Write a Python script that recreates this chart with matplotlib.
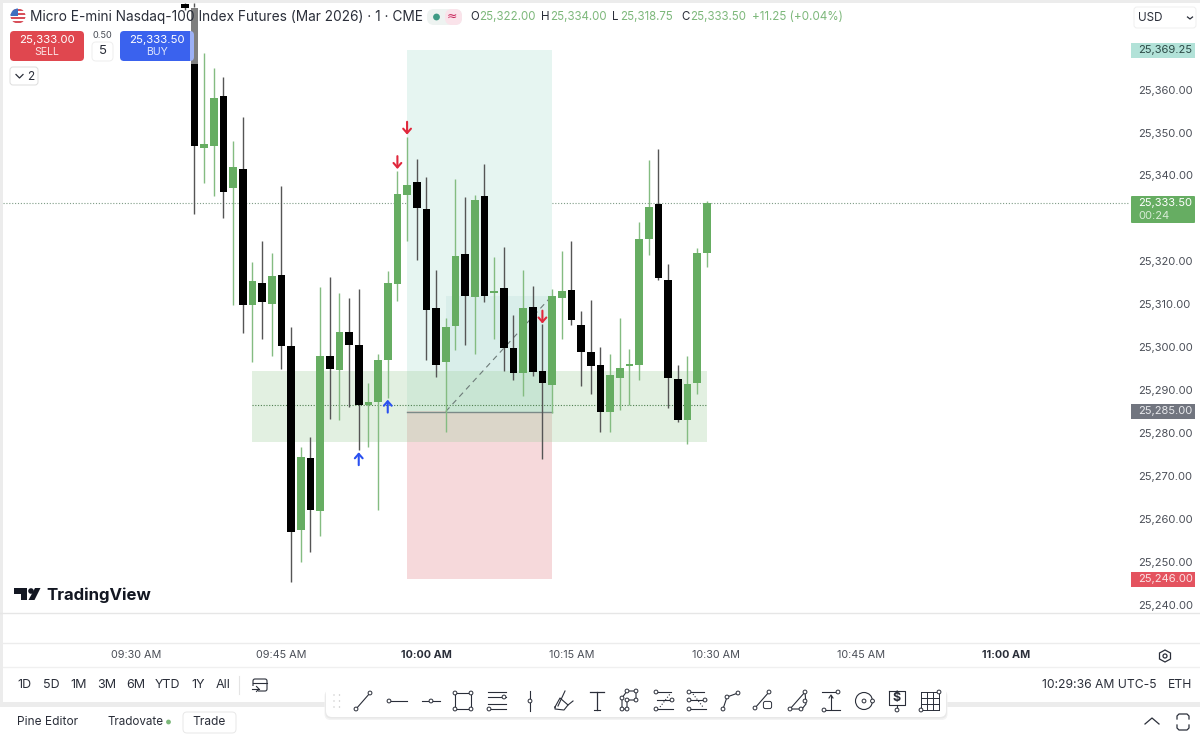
from __future__ import annotations

import matplotlib

matplotlib.use("Agg")

import matplotlib.pyplot as plt
from matplotlib.patches import Circle, FancyBboxPatch, Polygon, Rectangle

plt.rcParams["font.family"] = ["Inter", "DejaVu Sans"]

W, H = 1200, 734

# minutes after 09:30; OHLC lists hold the quote minus OFFSET
MINUTES = list(range(5, 60))
OFFSET = 25000
OPENS = [380, 379, 346.5, 346.75, 358.5, 337, 341.5, 309.75, 315, 310, 316.75, 300.25, 257.5, 274.25, 261.75,
         298, 294.75, 303.5, 300.5, 286.5, 287.25, 297, 314.75, 335.5, 338.5, 332.25, 309, 296.5, 305, 321.75,
         311.75, 335.25, 312.5, 313.75, 299.75, 294, 309.25, 294.5, 291.25, 311.5, 313.25, 305.25, 298.75, 295.75,
         285, 292.75, 295.5, 295.75, 325.25, 333.25, 315.75, 292.5, 283, 291.75, 322]
HIGHS = [380.25, 380.25, 368.5, 365, 363, 348, 353.5, 319.75, 324.75, 322, 337.5, 304.75, 276.75, 279, 314,
         316.25, 312.5, 311.5, 313.5, 291.75, 298.5, 317.75, 341, 349, 343.75, 339.75, 318, 306.75, 339.25, 335,
         335.5, 342.75, 321, 323.25, 307.5, 318, 314.25, 305.5, 313.5, 322.5, 324.75, 308.5, 311, 300,
         298.5, 306.75, 299.5, 329.25, 343.5, 346.25, 319.25, 295.75, 298, 323, 334]
LOWS = [378.5, 331, 338.25, 335.25, 330, 309.75, 303.25, 296.5, 302, 298, 295, 245.25, 250, 252.25, 256,
        283.25, 283, 286, 276, 276.75, 262, 288.25, 310.75, 324.75, 320.25, 297, 293, 280.25, 299.25, 300.5,
        298.5, 310.5, 302, 294.5, 292.25, 288.5, 293.25, 274, 284.75, 302, 305.25, 291, 289, 280.25,
        280.25, 285.25, 286.5, 292.25, 321.5, 315.75, 285.75, 282.5, 277.5, 289, 318.75]
CLOSES = [379, 346.75, 347.25, 358, 336.25, 342, 309.75, 315.5, 310.5, 316.5, 300.25, 257, 274.5, 262, 298,
          295, 303.5, 300.5, 286.5, 287.25, 297, 315, 335.75, 337.75, 332.5, 308.75, 295.75, 304.75, 321.25, 312,
          334.25, 312, 313, 299.75, 294, 309, 294.25, 291.75, 312, 313, 306.25, 298.75, 295.5, 285,
          293.5, 295.25, 296, 325.25, 332.75, 316, 292.75, 283, 291.5, 322, 333.5]

TARGET_PRICE = 25369.25
ENTRY_PRICE = 25285
STOP_PRICE = 25246
LAST_PRICE = 25333.5
POSITION_START, POSITION_END = 28, 43
FILL_START = 32
FILL_TOP = 25312
ZONE_START, ZONE_END = 12, 59
ZONE_TOP, ZONE_BOTTOM = 25294.5, 25278
ZONE_MID = 25286.5

SELL_ARROWS = [(27, 25341.5, 25344.5), (28, 25349.5, 25352.5), (42, 25305.5, 25308.5)]
BUY_ARROWS = [(23, 25275.5, 25272.5), (26, 25287.75, 25284.75)]

# 25,330 and 25,370 sit behind the price tags on the scale
PRICE_TICKS = [25240, 25250, 25260, 25270, 25280, 25290, 25300, 25310, 25320, 25340, 25350, 25360]
TIME_TICKS = [0, 15, 30, 45, 60, 75, 90]
TIME_LABELS = ["09:30 AM", "09:45 AM", "10:00 AM", "10:15 AM", "10:30 AM", "10:45 AM", "11:00 AM"]
RANGE_LABELS = ["1D", "5D", "1M", "3M", "6M", "YTD", "1Y", "All"]
RANGE_X = [24, 51, 79, 107, 136, 167, 198, 223]

GREEN = "#66ad62"
GREEN_WICK = "#84bc81"
INK = "#2a2e39"
GREY_TXT = "#4a4e57"


def px_axes(fig, zorder):
    ax = fig.add_axes([0, 0, 1, 1], zorder=zorder)
    ax.set_xlim(0, W)
    ax.set_ylim(H, 0)
    ax.axis("off")
    ax.patch.set_alpha(0)
    return ax


def box(ax, x0, y0, x1, y1, face="white", edge="none", r=3, lw=0.7, zorder=3, alpha=None):
    ax.add_patch(FancyBboxPatch((x0 + r, y0 + r), x1 - x0 - 2 * r, y1 - y0 - 2 * r,
                                boxstyle=f"round,pad={r},rounding_size={r}", fc=face, ec=edge, lw=lw,
                                zorder=zorder, alpha=alpha))


def draw_chart(ax):
    ax.set_xlim((3 - 136.4) / 9.667, (1130 - 136.4) / 9.667)
    ax.set_ylim(25360 - (613 - 89.6) / 4.292, 25360 - (3 - 89.6) / 4.292)
    ax.patch.set_alpha(0)
    for side in ["left", "top", "right", "bottom"]:
        ax.spines[side].set_visible(False)

    ax.axhline(LAST_PRICE, color="#7f9c86", lw=0.8, ls=(0, (1, 1.6)), zorder=1)

    # position tool
    width = POSITION_END - POSITION_START
    ax.add_patch(Rectangle((POSITION_START, ENTRY_PRICE), width, TARGET_PRICE - ENTRY_PRICE, fc="#e6f5f1", ec="none", zorder=1))
    ax.add_patch(Rectangle((POSITION_START, STOP_PRICE), width, ENTRY_PRICE - STOP_PRICE, fc="#f6d9db", ec="none", zorder=1))
    ax.add_patch(Rectangle((FILL_START, ENTRY_PRICE), POSITION_END - FILL_START, FILL_TOP - ENTRY_PRICE, fc="#d9eeea", ec="none", zorder=1.1))
    ax.add_patch(Rectangle((ZONE_START, ZONE_BOTTOM), ZONE_END - ZONE_START, ZONE_TOP - ZONE_BOTTOM, fc="#a5d2a3", alpha=0.32, ec="none", zorder=1.2))
    ax.plot([ZONE_START, ZONE_END], [ZONE_MID, ZONE_MID], color="#4f7f50", lw=0.8, ls=(0, (1, 1.5)), zorder=1.3)
    ax.plot([POSITION_START, POSITION_END], [ENTRY_PRICE, ENTRY_PRICE], color="#7b8a88", lw=1.0, zorder=1.3)
    ax.plot([FILL_START, POSITION_END], [ENTRY_PRICE, FILL_TOP], color="#6d7a78", lw=0.8, ls=(0, (5, 4)), zorder=1.3)

    # candles
    for m, o, h, l, c in zip(MINUTES, OPENS, HIGHS, LOWS, CLOSES):
        up = c >= o
        ax.vlines(m, OFFSET + l, OFFSET + h, color=GREEN_WICK if up else "#555555", lw=1.0, zorder=2)
        ax.bar(m, max(abs(c - o), 0.5), bottom=OFFSET + min(o, c), width=0.78, color=GREEN if up else "black", zorder=3)

    style = "->,head_width=0.28,head_length=0.32"
    for m, tip, tail in SELL_ARROWS:
        ax.annotate("", xy=(m, tip), xytext=(m, tail), zorder=4,
                    arrowprops=dict(arrowstyle=style, color="#e0283c", lw=1.5, shrinkA=0, shrinkB=0))
    for m, tip, tail in BUY_ARROWS:
        ax.annotate("", xy=(m, tip), xytext=(m, tail), zorder=4,
                    arrowprops=dict(arrowstyle=style, color="#2a50f0", lw=1.5, shrinkA=0, shrinkB=0))

    ax.yaxis.tick_right()
    ax.set_yticks(PRICE_TICKS)
    ax.set_yticklabels([f"{p:,.2f}" for p in PRICE_TICKS], fontsize=8.0, color=GREY_TXT)
    ax.set_xticks(TIME_TICKS)
    ax.set_xticklabels(TIME_LABELS, fontsize=7.8, color=GREY_TXT)
    ax.tick_params(axis="y", length=0, pad=5.5)
    ax.tick_params(axis="x", length=0, pad=27)
    for label in ax.get_xticklabels():
        if label.get_text() in ("10:00 AM", "11:00 AM"):
            label.set_fontweight("bold")
            label.set_color(INK)


def draw_flag(ax):
    clip = Circle((18, 16), 7.5, transform=ax.transData)
    ax.add_patch(Rectangle((10, 8), 16, 16, fc="white", ec="none", zorder=3, clip_path=clip))
    for y in (9, 13, 17, 21):
        ax.add_patch(Rectangle((10, y), 16, 2, fc="#d8505a", ec="none", zorder=3.1, clip_path=clip))
    ax.add_patch(Rectangle((10, 8), 8, 8, fc="#3f6fc0", ec="none", zorder=3.2, clip_path=clip))


def draw_header(ax):
    draw_flag(ax)
    ax.text(30, 17, "Micro E-mini Nasdaq-100 Index Futures (Mar 2026) · 1 · CME", fontsize=9.85, color=INK, va="center", zorder=5)

    box(ax, 427, 9, 462, 25, face="#eef3f1", r=7)
    box(ax, 445, 9, 462, 25, face="#fae3ea", r=7, zorder=3.1)
    ax.add_patch(Circle((436.5, 17), 3.4, fc="#3f9b85", ec="none", zorder=4))
    ax.text(452, 16.5, "≈", fontsize=9, color="#c8285c", ha="center", va="center", family="DejaVu Sans", zorder=4)

    green = "#7db87b"
    for x, letter, vx, value in [(470, "O", 479, "25,322.00"), (541, "H", 550, "25,334.00"),
                                 (612, "L", 620, "25,318.75"), (681, "C", 690, "25,333.50")]:
        ax.text(x, 17, letter, fontsize=8.3, color=INK, va="center", zorder=5)
        ax.text(vx, 17, value, fontsize=8.3, color=green, va="center", zorder=5)
    ax.text(752, 17, "+11.25 (+0.04%)", fontsize=8.4, color=green, va="center", zorder=5)

    box(ax, 10, 31, 84, 61, face="#e0474f", r=4)
    ax.text(47, 40, "25,333.00", fontsize=8.2, color="white", ha="center", va="center", zorder=5)
    ax.text(47, 52, "SELL", fontsize=7.6, color="#fbe3e4", ha="center", va="center", zorder=5)
    box(ax, 120, 31, 194, 61, face="#3a62ee", r=4)
    ax.text(157, 40, "25,333.50", fontsize=8.2, color="white", ha="center", va="center", zorder=5)
    ax.text(157, 52, "BUY", fontsize=7.6, color="#dfe6fd", ha="center", va="center", zorder=5)
    ax.text(102.5, 35, "0.50", fontsize=6.6, color=GREY_TXT, ha="center", va="center", zorder=5)
    box(ax, 92, 42, 113, 61, face="white", edge="#eeeeee", r=4)
    ax.text(102.5, 51.5, "5", fontsize=9.5, color=INK, ha="center", va="center", zorder=5)
    box(ax, 10, 67, 38, 85, face="white", edge="#dddddd", r=3)
    ax.plot([16, 19.5, 23], [74.5, 78, 74.5], color=INK, lw=0.9, zorder=5)
    ax.text(31, 76.5, "2", fontsize=8.5, color=INK, ha="center", va="center", zorder=5)

    box(ax, 1134, 7, 1196, 28, face="white", edge="#efefef", r=3)
    ax.text(1138, 18, "USD", fontsize=8.4, color=INK, va="center", zorder=5)
    ax.plot([1187.5, 1190, 1192.5], [17, 19, 17], color=INK, lw=0.9, zorder=5)

    # price tags on the scale
    ax.add_patch(Rectangle((1131, 42.5), 64, 15, fc="#b2e2d8", ec="none", zorder=4))
    ax.text(1138, 50, f"{TARGET_PRICE:,.2f}", fontsize=8.0, color="#2c4a46", va="center", zorder=5)
    box(ax, 1131, 196, 1195, 223, face=GREEN, r=1, zorder=4)
    ax.text(1138, 203, f"{LAST_PRICE:,.2f}", fontsize=8.0, color="white", va="center", zorder=5)
    ax.text(1138, 216, "00:24", fontsize=8.0, color="#d8ecd7", va="center", zorder=5)
    ax.add_patch(Rectangle((1131, 404), 64, 15, fc="#71757f", ec="none", zorder=4))
    ax.text(1138, 411, f"{ENTRY_PRICE:,.2f}", fontsize=8.0, color="#e8e9ec", va="center", zorder=5)
    ax.add_patch(Rectangle((1131, 571.5), 64, 15, fc="#e4535f", ec="none", zorder=4))
    ax.text(1138, 578.5, f"{STOP_PRICE:,.2f}", fontsize=8.0, color="#fbe3e5", va="center", zorder=5)

    # washed out part of the candle behind the legend
    ax.add_patch(Rectangle((190, 7), 8, 57, fc="white", alpha=0.5, ec="none", zorder=3))


def draw_logo(ax):
    ax.add_patch(Polygon([(14, 588), (27, 588), (27, 600), (21, 600), (21, 594), (14, 594)], fc="#131722", ec="none", zorder=3))
    ax.add_patch(Circle((31, 591), 2.8, fc="#131722", ec="none", zorder=3))
    ax.add_patch(Polygon([(35, 588), (40.5, 588), (34.5, 600), (28.5, 600)], fc="#131722", ec="none", zorder=3))
    ax.text(46.5, 595, "TradingView", fontsize=12.1, fontweight="bold", color="#131722", va="center", zorder=3)


def draw_footer(ax):
    ax.plot([0, W], [613, 613], color="#e6e6e6", lw=1, zorder=1)
    ax.plot([3, W], [643, 643], color="#ececec", lw=1, zorder=1)
    ax.plot([3, W], [667, 667], color="#f0f0f0", lw=1, zorder=1)
    for x, label in zip(RANGE_X, RANGE_LABELS):
        ax.text(x, 685, label, fontsize=9, color=INK, ha="center", va="center", zorder=5)
    ax.plot([239, 239], [676, 694], color="#e4e4e4", lw=0.8, zorder=5)
    ax.add_patch(FancyBboxPatch((253, 679), 14, 12, boxstyle="round,pad=0,rounding_size=2", fc="none", ec=INK, lw=0.8, zorder=5))
    ax.plot([253, 267], [683, 683], color=INK, lw=0.8, zorder=5)
    ax.add_patch(Rectangle((250, 686), 8, 7, fc="white", ec="none", zorder=5.1))
    ax.plot([252, 259], [689, 689], color=INK, lw=0.8, zorder=5.2)
    ax.plot([256.5, 259, 256.5], [686.5, 689, 691.5], color=INK, lw=0.8, zorder=5.2)

    ax.text(1157, 685, "10:29:36 AM UTC-5", fontsize=8.75, color=INK, ha="right", va="center", zorder=5)
    ax.text(1180, 685, "ETH", fontsize=8.75, color=INK, ha="center", va="center", zorder=5)

    hexagon = [(1165, 650), (1170.5, 653), (1170.5, 659), (1165, 662), (1159.5, 659), (1159.5, 653)]
    ax.add_patch(Polygon(hexagon, fc="none", ec=INK, lw=0.9, zorder=5))
    ax.add_patch(Circle((1165, 656), 2, fc="none", ec=INK, lw=0.9, zorder=5))

    ax.text(17, 722, "Pine Editor", fontsize=8.6, color=INK, va="center", zorder=5)
    ax.text(107, 722, "Tradovate", fontsize=8.4, color=INK, va="center", zorder=5)
    ax.add_patch(Circle((168.5, 722), 2.4, fc="#7db87b", ec="none", zorder=5))
    box(ax, 183, 712, 236, 733, face="white", edge="#e8e8e8", r=4)
    ax.text(209.5, 722, "Trade", fontsize=8.6, color=INK, ha="center", va="center", zorder=5)
    ax.plot([1145, 1152, 1159], [724, 718, 724], color=INK, lw=0.9, zorder=5)
    ax.plot([1177, 1177, 1179, 1187, 1189, 1189], [719, 716, 714, 714, 716, 719], color=INK, lw=0.9, zorder=5)
    ax.plot([1177, 1177, 1179, 1187, 1189, 1189], [725, 728, 730, 730, 728, 725], color=INK, lw=0.9, zorder=5)


def draw_toolbar(ax):
    # soft shadow below the bar only
    for pad, col in [(3, "#f3f3f3"), (1.5, "#e8e8e8")]:
        box(ax, 326 - pad / 2, 690, 946 + pad / 2, 717 + pad, face=col, r=6, zorder=3)
    box(ax, 326, 686, 946, 717, face="white", r=6, zorder=3.5)

    for x in (334, 339.5):
        for y in (695, 701, 707):
            ax.add_patch(Circle((x, y), 0.7, fc="#c4c4c4", ec="none", zorder=5))

    cy = 701

    def seg(cx, pts, lw=0.8, ls="-", col=INK):
        ax.plot([cx + p[0] for p in pts], [cy + p[1] for p in pts], color=col, lw=lw, ls=ls, zorder=5)

    def nodes(cx, pts):
        for p in pts:
            ax.add_patch(Circle((cx + p[0], cy + p[1]), 1.9, fc="white", ec=INK, lw=0.7, zorder=6))

    seg(363, [(-7, 8), (7, -8)]); nodes(363, [(-7, 8), (7, -8)])
    seg(397, [(-8, 0), (10, 0)]); nodes(397, [(-8, 0)])
    seg(431, [(-9, 0), (9, 0)]); nodes(431, [(0, 0)])
    seg(463, [(-8, -8), (8, -8), (8, 8), (-8, 8), (-8, -8)]); nodes(463, [(-8, -8), (8, -8), (8, 8), (-8, 8)])
    for y in (-9, -4, 3, 8):
        seg(497, [(-9, y), (9, y)])
    nodes(497, [(7, -4), (-8, 8)])
    seg(530, [(0, -10), (0, 10)]); nodes(530, [(0, 0)])
    seg(563, [(-5, 5), (2, -10)]); seg(563, [(-8, 6), (-3, -3), (5, 4), (1, 9), (-8, 8), (-8, 6)])
    seg(563, [(5, 4), (10, 0)])
    seg(597, [(-7, -9), (7, -9)], lw=0.9); seg(597, [(0, -9), (0, 9)], lw=0.9); seg(597, [(-3, 9), (3, 9)])
    net = [(-8, 8), (-8, -3), (-3, -10), (6, -10), (6, -1), (-3, -1), (-3, 8), (-8, 8)]
    seg(630, net); nodes(630, net[:-1])
    for cx in (664, 697):
        seg(cx, [(-7, -9), (7, -9)]); seg(cx, [(-7, -1), (9, -1)]); seg(cx, [(-7, 8), (9, 8)])
        seg(cx, [(-4, 6), (6, -7)] if cx == 664 else [(-4, -7), (6, 6)], ls=":")
        nodes(cx, [(-8, -9), (8, -1), (-8, 8)] if cx == 664 else [(-8, -9), (-8, -1), (8, -1), (-8, 8)])
    seg(731, [(-8, 8), (-4, -4), (7, -8)]); nodes(731, [(-8, 8), (-4, -4), (7, -8)])
    seg(764, [(-9, 7), (5, -9)]); nodes(764, [(-9, 7), (5, -9)])
    ax.add_patch(FancyBboxPatch((764, 702), 7, 6, boxstyle="round,pad=0.6,rounding_size=2", fc="white", ec=INK, lw=0.7, zorder=6))
    seg(798, [(-8, 8), (7, -9), (8, 3), (4, 8), (-8, 8)]); nodes(798, [(-8, 8), (7, -9), (7, 0), (3, 8)])
    seg(831, [(-9, -9), (6, -9)]); seg(831, [(-7, 9), (9, 9)]); seg(831, [(0, 8), (0, -5)])
    seg(831, [(-2, -3), (0, -6), (2, -3)]); nodes(831, [(7, -9), (-7, 9)])
    ax.add_patch(Circle((864, cy), 8.5, fc="none", ec=INK, lw=0.8, zorder=5)); nodes(864, [(0, 0), (8.5, 0)])
    seg(897, [(-8, -10), (8, -10), (8, 4), (-8, 4), (-8, -10)]); seg(897, [(0, 4), (0, 9)]); nodes(897, [(0, 9)])
    ax.text(897, cy - 3, "$", fontsize=9, color=INK, fontweight="bold", ha="center", va="center", zorder=6)
    for d in (-9, -3, 3, 9):
        seg(930, [(d, -9), (d, 9)], lw=0.7); seg(930, [(-9, d), (9, d)], lw=0.7)
    nodes(930, [(-9, 9), (9, -9)])


def main():
    fig = plt.figure(figsize=(W / 100, H / 100), dpi=100, facecolor="white")

    back = px_axes(fig, 0)
    for rect in [(0, 0, W, 3), (0, 0, 3, 703), (0, 702, W, 5)]:
        back.add_patch(Rectangle((rect[0], rect[1]), rect[2], rect[3], fc="#ececec", ec="none"))
    box(back, 3, 3, 1198, 702, face="white", r=5, zorder=1)

    ax = fig.add_axes([3 / W, 1 - 613 / H, 1127 / W, 610 / H], zorder=1)
    draw_chart(ax)

    top = px_axes(fig, 2)
    draw_header(top)
    draw_logo(top)
    draw_footer(top)
    draw_toolbar(top)

    fig.savefig("out.png", dpi=100)
    plt.close(fig)


if __name__ == "__main__":
    main()
